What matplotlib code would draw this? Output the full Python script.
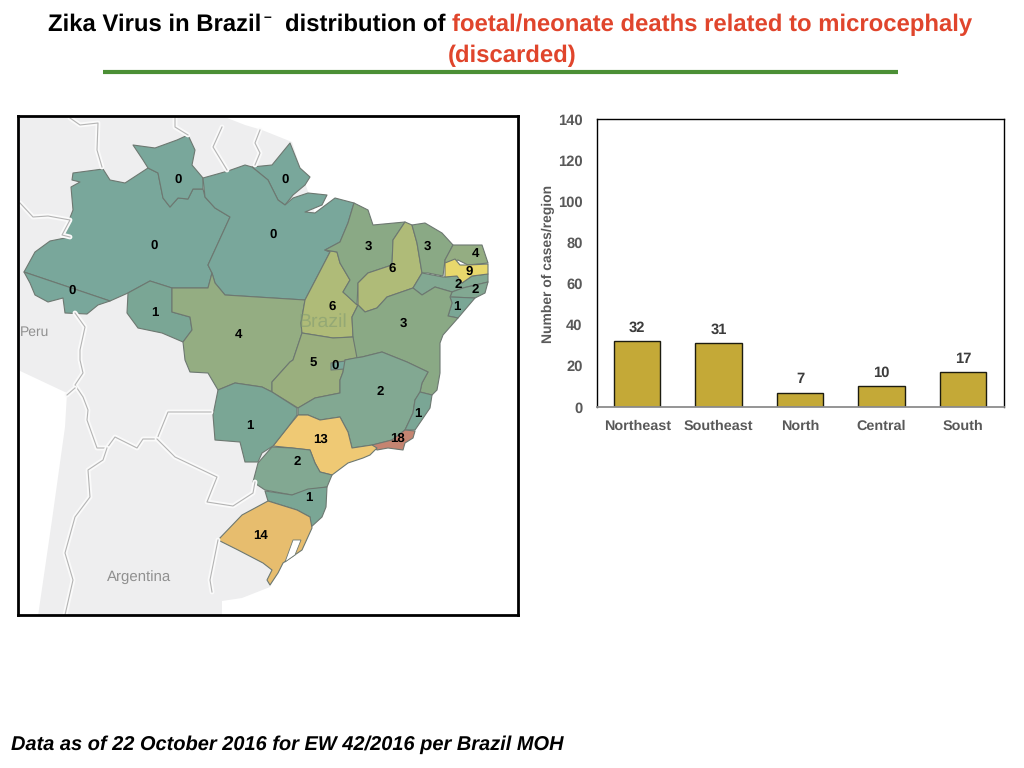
import matplotlib
matplotlib.use("Agg")
import matplotlib.pyplot as plt
from matplotlib.patches import Polygon

plt.rcParams["font.family"] = ["Liberation Sans", "DejaVu Sans"]
plt.rcParams["text.hinting"] = "none"

# bar chart data
regions = ["Northeast", "Southeast", "North", "Central", "South"]
region_cases = [32, 31, 7, 10, 17]
y_ticks = [0, 20, 40, 60, 80, 100, 120, 140]

# map data, outlines in pixels
states = ["AM", "RR", "AP", "PA", "AC", "RO", "MT", "TO", "MA", "PI", "CE", "RN", "PE", "PB",
          "AL", "SE", "BA", "GO", "DF", "MG", "ES", "RJ", "SP", "MS", "PR", "SC", "RS"]
state_cases = [0, 0, 0, 0, 0, 1, 4, 6, 3, 6, 3, 4, 2, 9,
               2, 1, 3, 5, 0, 2, 1, 18, 13, 1, 2, 1, 14]
outlines = {
    "AM": [(24, 272), (35, 252), (50, 241), (70, 237), (64, 233), (73, 210), (71, 187), (80, 182), (72, 180), (73, 173),
           (103, 169), (110, 180), (125, 183), (148, 168), (158, 173), (163, 198), (170, 207), (178, 198), (188, 199),
           (193, 189), (203, 189), (205, 197), (215, 208), (230, 217), (208, 265), (212, 273), (208, 288), (172, 288),
           (150, 281), (128, 293), (110, 301)],
    "RR": [(133, 145), (155, 148), (177, 140), (188, 135), (195, 150), (192, 165), (203, 178), (203, 189), (193, 189),
           (188, 199), (178, 198), (170, 207), (163, 198), (158, 173), (148, 168), (143, 160)],
    "AP": [(252, 167), (272, 165), (290, 143), (300, 168), (310, 177), (305, 185), (293, 195), (285, 205), (278, 200),
           (268, 180)],
    "PA": [(203, 178), (228, 171), (245, 165), (252, 167), (268, 180), (278, 200), (285, 205), (293, 198), (308, 193),
           (327, 195), (322, 205), (305, 212), (315, 213), (335, 198), (354, 203), (348, 223), (340, 242), (325, 250),
           (330, 252), (317, 277), (305, 300), (225, 295), (215, 283), (212, 273), (208, 265), (230, 217), (215, 208),
           (205, 197)],
    "AC": [(24, 272), (110, 301), (98, 305), (87, 314), (65, 313), (63, 298), (48, 302), (35, 295), (30, 283)],
    "RO": [(128, 293), (150, 281), (172, 288), (172, 312), (190, 317), (192, 330), (183, 342), (162, 333), (138, 328),
           (127, 313)],
    "MT": [(172, 288), (208, 288), (212, 273), (215, 283), (225, 295), (305, 300), (301, 323), (302, 333), (293, 360),
           (290, 362), (272, 382), (272, 392), (262, 387), (235, 383), (218, 390), (208, 373), (190, 372), (185, 360),
           (183, 342), (192, 330), (190, 317), (172, 312)],
    "TO": [(325, 250), (337, 252), (340, 263), (350, 280), (343, 292), (358, 305), (352, 317), (353, 337), (333, 338),
           (302, 333), (301, 323), (305, 300), (317, 277), (330, 252)],
    "MA": [(354, 203), (368, 210), (373, 225), (405, 222), (393, 240), (392, 265), (368, 273), (358, 283), (357, 305),
           (343, 292), (350, 280), (340, 263), (337, 252), (325, 250), (340, 242), (348, 223)],
    "PI": [(405, 222), (412, 225), (417, 243), (422, 273), (413, 288), (387, 297), (377, 308), (365, 312), (358, 305),
           (358, 283), (368, 273), (392, 265), (393, 240)],
    "CE": [(412, 225), (425, 223), (442, 233), (453, 245), (445, 260), (443, 276), (428, 273), (422, 273), (417, 243)],
    "RN": [(453, 245), (482, 245), (488, 263), (468, 265), (458, 260), (445, 265), (445, 260)],
    "PE": [(422, 273), (443, 277), (457, 276), (462, 283), (472, 276), (488, 274), (488, 282), (463, 288), (452, 292),
           (435, 287), (422, 295), (413, 288)],
    "PB": [(445, 263), (455, 259), (460, 265), (468, 265), (488, 264), (488, 274), (472, 276), (462, 283), (457, 276),
           (445, 277)],
    "AL": [(452, 292), (463, 288), (488, 282), (485, 293), (475, 298), (450, 297)],
    "SE": [(450, 297), (475, 298), (458, 318), (448, 316), (452, 303)],
    "BA": [(352, 317), (358, 305), (365, 312), (377, 308), (387, 297), (413, 288), (422, 295), (435, 287), (452, 292),
           (450, 297), (452, 303), (448, 316), (458, 318), (443, 335), (440, 343), (440, 373), (437, 390), (432, 395),
           (420, 392), (422, 383), (428, 372), (407, 362), (382, 352), (362, 357), (355, 358), (353, 337)],
    "GO": [(302, 333), (333, 338), (353, 337), (357, 358), (345, 360), (343, 372), (340, 380), (340, 393), (315, 398),
           (298, 408), (272, 392), (272, 382), (290, 362), (293, 360)],
    "DF": [(331, 363), (345, 361), (345, 369), (331, 370)],
    "MG": [(298, 408), (315, 398), (340, 393), (340, 380), (343, 372), (345, 360), (355, 358), (362, 357), (382, 352),
           (407, 362), (428, 372), (422, 383), (420, 392), (415, 400), (413, 413), (405, 430), (392, 440), (373, 445),
           (352, 448), (348, 432), (340, 417), (320, 420), (308, 415), (298, 415)],
    "ES": [(420, 392), (432, 395), (430, 408), (415, 430), (405, 430), (413, 413), (415, 400)],
    "RJ": [(405, 430), (415, 431), (413, 438), (405, 443), (403, 450), (388, 448), (377, 450), (372, 445), (392, 440)],
    "SP": [(298, 415), (308, 415), (320, 420), (340, 417), (348, 432), (352, 448), (372, 445), (377, 448), (370, 455),
           (363, 458), (348, 463), (332, 475), (320, 472), (315, 463), (310, 450), (292, 448), (273, 446), (288, 427)],
    "MS": [(218, 390), (235, 383), (262, 387), (272, 392), (297, 408), (297, 415), (288, 427), (273, 446), (262, 453),
           (258, 462), (245, 462), (240, 442), (215, 440), (213, 415)],
    "PR": [(258, 463), (272, 447), (292, 448), (310, 450), (315, 463), (320, 472), (332, 475), (327, 487), (308, 490),
           (292, 495), (265, 490), (253, 482)],
    "SC": [(265, 491), (292, 495), (308, 489), (327, 487), (326, 507), (322, 517), (310, 528), (310, 517), (297, 510),
           (268, 501)],
    "RS": [(268, 501), (297, 510), (310, 517), (312, 528), (302, 550), (283, 563), (278, 573), (270, 585), (267, 580),
           (272, 570), (263, 563), (238, 550), (218, 540), (242, 515)],
}
label_x = [154, 178, 285, 273, 72, 155, 238, 332, 368, 392, 427, 475, 458, 469,
           475, 457, 403, 313, 335, 380, 418, 398, 321, 250, 297, 309, 261]
label_y = [246, 180, 180, 235, 291, 313, 335, 307, 246, 269, 246, 254, 285, 272,
           290, 307, 323, 364, 366, 392, 414, 439, 439, 426, 462, 498, 536]
case_colors = {0: "#79a79b", 1: "#7aa695", 2: "#82a892", 3: "#8aa985", 4: "#94ad82", 5: "#9aaf7e", 6: "#afbb78",
               9: "#e8d86c", 13: "#efc974", 14: "#e7bd6e", 18: "#c58471"}

land = [(18, 116), (222, 116), (245, 125), (262, 130), (292, 142), (330, 260), (330, 480), (270, 587), (242, 598),
        (222, 601), (222, 616), (38, 616), (52, 520), (65, 427), (67, 393), (18, 370)]
neighbour_borders = [
    [(70, 118), (80, 125), (98, 123), (97, 150), (102, 167)],
    [(175, 118), (175, 127), (188, 135)],
    [(222, 127), (213, 147), (227, 170)],
    [(260, 130), (255, 143), (260, 153), (255, 165)],
    [(20, 203), (33, 217), (48, 216), (70, 220), (62, 235), (70, 237)],
    [(75, 313), (85, 327), (80, 350), (80, 360), (83, 373), (75, 385), (83, 397), (88, 410), (87, 420), (97, 448),
     (107, 448), (115, 437), (137, 448), (143, 439), (157, 439), (168, 412), (211, 412)],
    [(67, 395), (75, 388)],
    [(157, 439), (175, 457), (217, 477), (207, 502), (233, 506), (253, 493), (255, 482)],
    [(107, 448), (103, 460), (88, 470), (90, 497), (75, 517), (65, 553), (73, 580), (65, 615)],
    [(218, 540), (210, 580), (212, 592)],
]
lagoon = [(293, 540), (301, 540), (295, 555), (285, 562)]

fig = plt.figure(figsize=(10.24, 7.68), dpi=100)

# whole figure in picture pixels, for the title and footer
bg = fig.add_axes([0, 0, 1, 1])
bg.set_xlim(0, 1024)
bg.set_ylim(768, 0)
bg.axis("off")
title_size = 17.2
bg.text(48, 25, "Zika Virus in Brazil", fontsize=title_size, fontweight="bold", va="center")
bg.text(264, 17, "–", fontsize=10, fontweight="bold", va="center")
bg.text(285, 25, "distribution of", fontsize=title_size, fontweight="bold", va="center")
bg.text(452, 25, "foetal/neonate deaths related to microcephaly", fontsize=title_size, fontweight="bold",
        color="#e0452c", va="center")
bg.text(512, 56, "(discarded)", fontsize=title_size, fontweight="bold", color="#e0452c", va="center", ha="center")
bg.plot([103, 898], [71.5, 71.5], color="#4b8f35", lw=3, solid_capstyle="butt")
bg.text(11, 745, "Data as of 22 October 2016 for EW 42/2016 per Brazil MOH", fontsize=14.4, fontweight="bold",
        style="italic", va="center")

# map panel
ax = fig.add_axes([18 / 1024, 1 - 615 / 768, 500 / 1024, 499 / 768])
ax.set_xlim(18, 518)
ax.set_ylim(615, 116)
ax.set_xticks([])
ax.set_yticks([])
for s in ax.spines.values():
    s.set_linewidth(2)
    s.set_color("black")

ax.add_patch(Polygon(land, fc="#eeeeef", ec="none"))
for line in neighbour_borders:
    xs = [p[0] for p in line]
    ys = [p[1] for p in line]
    ax.plot(xs, ys, color="#fafafa", lw=3.5, solid_capstyle="round")
    ax.plot(xs, ys, color="#b4b4b4", lw=0.8)
ax.text(35, 332, "Peru", fontsize=10, color="#909090", ha="center", va="center")
ax.text(139, 577, "Argentina", fontsize=10.8, color="#909090", ha="center", va="center")

for st, n in zip(states, state_cases):
    ax.add_patch(Polygon(outlines[st], fc=case_colors[n], ec="#6d7871", lw=0.8, joinstyle="round"))
ax.add_patch(Polygon(lagoon, fc="white", ec="#6d7871", lw=0.6))
ax.text(323, 322, "Brazil", fontsize=14, color="#7f9a72", alpha=0.55, ha="center", va="center")

for x, y, n in zip(label_x, label_y, state_cases):
    ax.text(x, y, str(n), fontsize=9.5, fontweight="bold", color="black", ha="center", va="center")

# bar panel
ax2 = fig.add_axes([596.5 / 1024, 1 - 407 / 768, 407 / 1024, 288 / 768])
bars = ax2.bar(regions, region_cases, width=0.57, color="#c4a937", edgecolor="#1c1c10", linewidth=1)
ax2.set_xlim(-0.5, 4.5)
ax2.set_ylim(0, 140)
ax2.set_yticks(y_ticks)
ax2.tick_params(length=0, colors="#595959", labelsize=10.6)
ax2.tick_params(axis="x", pad=9, labelsize=10.4)
ax2.tick_params(axis="y", pad=10)
for lab in ax2.get_xticklabels() + ax2.get_yticklabels():
    lab.set_fontweight("bold")
ax2.set_ylabel("Number of cases/region", fontsize=10, fontweight="bold", color="#595959")
ax2.yaxis.set_label_coords(-0.103, 0.498)
for s in ax2.spines.values():
    s.set_linewidth(1)
    s.set_color("black")
ax2.spines["bottom"].set_color("#8c8c8c")
ax2.spines["bottom"].set_linewidth(1.3)
for b, v in zip(bars, region_cases):
    ax2.text(b.get_x() + b.get_width() / 2, v + 3, str(v), fontsize=10.6, fontweight="bold", color="#3c3c3c",
             ha="center", va="bottom")

fig.savefig("out.png", dpi=100)
